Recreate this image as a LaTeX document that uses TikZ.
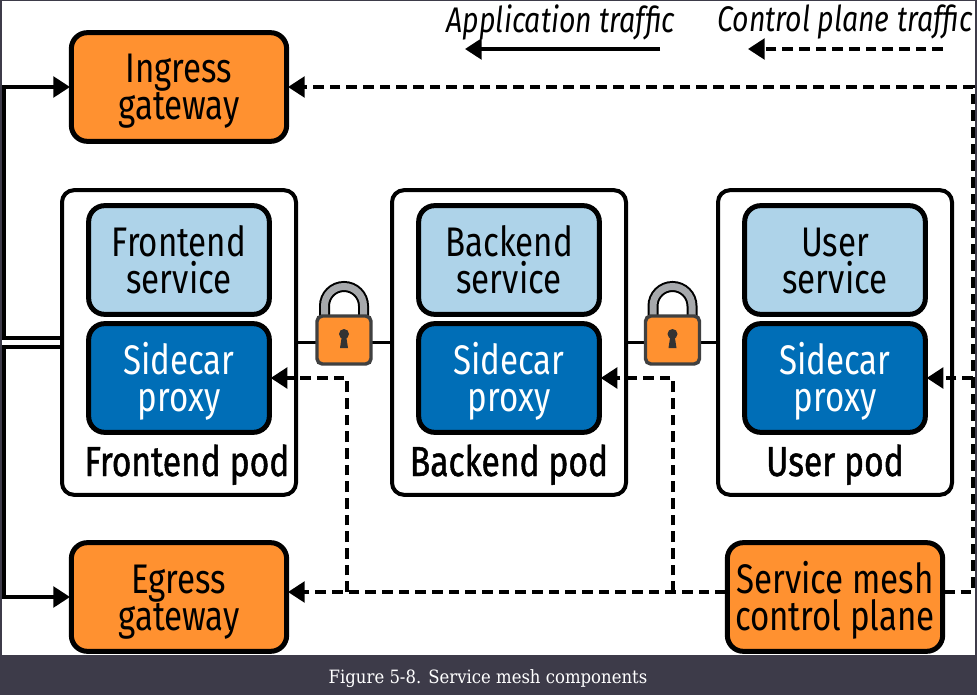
\documentclass[tikz,border=0pt]{standalone}
\usepackage{fontspec}
\setmainfont[FakeStretch=0.8]{Fira Sans}
\newfontfamily\podfont{Fira Sans}[FakeStretch=0.8,FakeBold=1.1]
\newfontfamily\capfont{DejaVu Serif}[FakeStretch=0.9]
\usetikzlibrary{arrows.meta}
\definecolor{orng}{HTML}{FF9130}
\definecolor{ltblue}{HTML}{AED3E9}
\definecolor{dkblue}{HTML}{006EB7}
\definecolor{frame}{HTML}{3D3B49}
\definecolor{shackle}{HTML}{A7A9AC}
\tikzset{
  box/.style={draw=black,line width=3.75pt,rounded corners=12pt,inner sep=0pt,align=center,outer sep=1pt,
     font=\fontsize{31}{27.75}\selectfont,minimum width=161.5pt,minimum height=81.5pt,text height=49.5pt,text depth=0pt},
  gate/.style={box,fill=orng},
  svc/.style={box,fill=ltblue,minimum width=135.5pt},
  proxy/.style={box,fill=dkblue,text=white,minimum width=135.5pt},
  pod/.style={draw=black,line width=3pt,rounded corners=9pt,fill=white,minimum width=175.5pt,minimum height=228.5pt,inner sep=0pt},
  podlabel/.style={font=\podfont\fontsize{31.5}{28}\selectfont,inner sep=0pt,anchor=base},
  legend/.style={font=\fontsize{26.7}{26}\selectfont\itshape,inner sep=0pt},
  app/.style={line width=2.6pt,-{Triangle[length=12.5pt,width=15.5pt]}},
  ctl/.style={line width=2.6pt,dash pattern=on 8pt off 4.5pt,-{Triangle[length=12.5pt,width=15.5pt]}},
  plain/.style={line width=2.6pt},
}
\newcommand{\padlock}[2]{%
  \begin{scope}[shift={(#1,#2)}]
    \draw[black,line width=8.25pt] (-19.5,0) -- (-19.5,-35) arc[start angle=180,end angle=360,radius=19.5] -- (19.5,0);
    \draw[shackle,line width=5.25pt] (-19.5,0) -- (-19.5,-35) arc[start angle=180,end angle=360,radius=19.5] -- (19.5,0);
    \draw[black!75,line width=2.6pt,fill=orng,rounded corners=4pt] (-27,-25) rectangle (27,23);
    \fill[black!80] (0,-7) circle[radius=5];
    \fill[black!80] (-2,-6) -- (2,-6) -- (4,7) -- (-4,7) -- cycle;
  \end{scope}}
\begin{document}
\begin{tikzpicture}[x=0.75pt,y=-0.75pt]
\useasboundingbox (0,0) rectangle (977,695);
\fill[frame] (0,0) rectangle (977,695);
\fill[white] (2,1) rectangle (975,655);
\node[anchor=center,text=white,font=\capfont\fontsize{13.75}{14}\selectfont,inner sep=0pt] (caption) at (488,678.5) {Figure 5-8. Service mesh components};

% pods
\node[pod] (fpod) at (179,342.5) {};
\node[pod] (bpod) at (509,342.5) {};
\node[pod] (upod) at (835,342.5) {};

\coordinate (ltop) at (4,338);
\coordinate (lbot) at (4,347);
\coordinate (rail) at (973,87);
\coordinate (mesh) at (726,592);
\coordinate (meshe) at (944,592);
\coordinate (railb) at (973,592);
\coordinate (d1) at (347,592);
\coordinate (d2) at (673,592);
\coordinate (egin) at (288,592);
\coordinate (s1) at (660,49);
\coordinate (e1) at (465,49);
\coordinate (s2) at (943,49);
\coordinate (e2) at (748,49);
\coordinate (lbtop) at (62,338);
\coordinate (lbbot) at (62,347);

% links between pods
\draw[plain] (fpod.east) -- (bpod.west);
\draw[plain] (bpod.east) -- (upod.west);

% boxes
\node[gate] (ingress) at (179,87) {Ingress\\gateway};
\node[gate] (egress) at (179,597) {Egress\\gateway};
\node[gate] (cp) at (835,597) {Service mesh\\control plane};
\node[svc] (fsvc) at (179,260) {Frontend\\service};
\node[proxy] (fpx) at (179,378) {Sidecar\\proxy};
\node[svc] (bsvc) at (509,260) {Backend\\service};
\node[proxy] (bpx) at (509,378) {Sidecar\\proxy};
\node[svc] (usvc) at (835,260) {User\\service};
\node[proxy] (upx) at (835,378) {Sidecar\\proxy};
\node[podlabel] (fl) at (187,476) {Frontend pod};
\node[podlabel] (bl) at (509,476) {Backend pod};
\node[podlabel] (ul) at (835,476) {User pod};

% application traffic
\draw[app] (lbtop) -- (ltop) |- (ingress.west);
\draw[app] (lbbot) -- (lbot) |- (egress.west);

% control plane traffic
\draw[ctl] (mesh) -- (egin);
\draw[ctl] (d1) |- (fpx.east);
\draw[ctl] (d2) |- (bpx.east);
\draw[ctl] (meshe) -- (railb) -- (rail) -- (ingress.east);
\draw[ctl] (973,378) -- (upx.east);

% locks
\padlock{344}{341}
\padlock{672.5}{341}

% legend
\node[legend] (lg1) at (561,22) {Application traffic};
\node[legend] (lg2) at (845,22) {Control plane traffic};
\draw[app] (s1) -- (e1);
\draw[ctl] (s2) -- (e2);
\end{tikzpicture}
\end{document}
